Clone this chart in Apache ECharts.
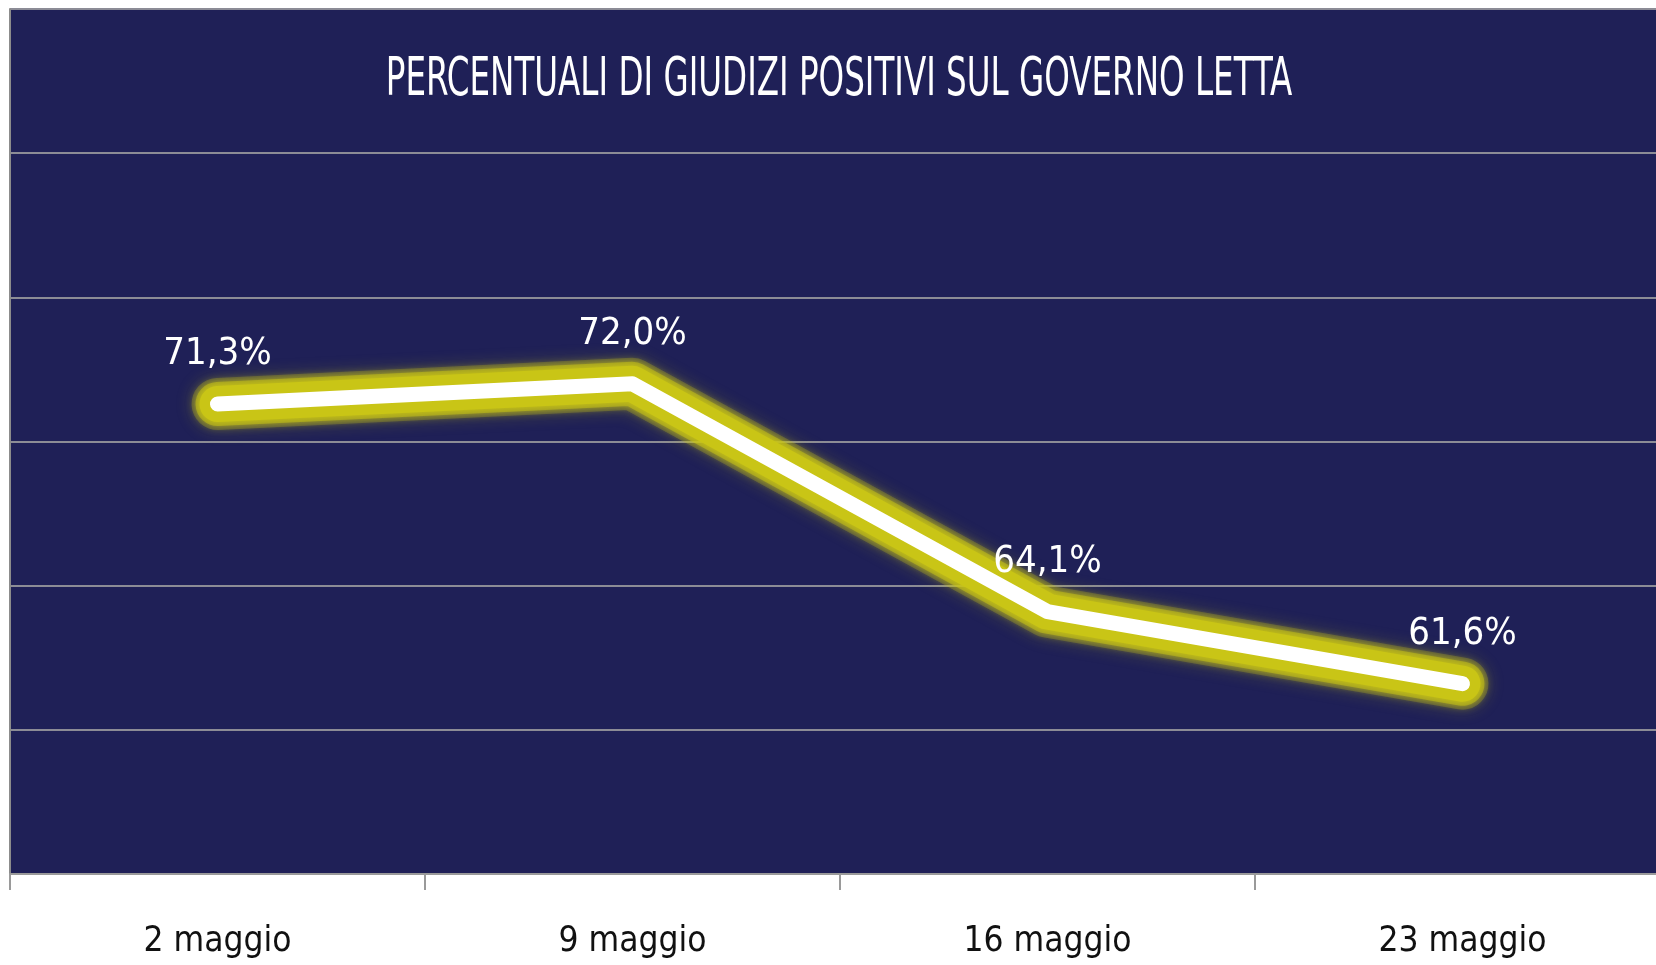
<!DOCTYPE html>
<html style="height: 100%">
<head>
<meta charset="utf-8">
<title>Governo Letta</title>
<script src="https://cdn.jsdelivr.net/npm/echarts@6/dist/echarts.min.js"></script>
</head>
<body style="height: 100%; margin: 0; background: #ffffff; overflow: hidden">
<!-- il grafico esce un po' a destra, come nell'originale -->
<div id="main" style="width: 1680px; height: 965px"></div>
<script type="text/javascript">
// dati
var categorie = ['2 maggio', '9 maggio', '16 maggio', '23 maggio'];
var giudiziPositivi = [71.3, 72.0, 64.1, 61.6];
var titolo = 'PERCENTUALI DI GIUDIZI POSITIVI SUL GOVERNO LETTA';

var font = '"DejaVu Sans Condensed", "Liberation Sans Narrow", sans-serif';
var giallo = '#c9c516';

var myChart = echarts.init(document.getElementById('main'));

function formatta(v) {
	return v.toFixed(1).replace('.', ',') + '%';
}

// alone giallo sfumato: piu' linee sovrapposte
function alone(larghezza, opacita, blur) {
	return {
		type: 'line',
		data: giudiziPositivi,
		showSymbol: false,
		silent: true,
		z: 2,
		lineStyle: {
			color: giallo,
			width: larghezza,
			opacity: opacita,
			cap: 'round',
			join: 'round',
			shadowColor: giallo,
			shadowBlur: blur
		}
	};
}

var option = {
	backgroundColor: '#ffffff',
	animation: false,
	// titolo stretto come nel originale (font condensato)
	graphic: [{
		type: 'text',
		x: 839,
		y: 54,
		scaleX: 0.67,
		z: 10,
		style: {
			text: titolo,
			fill: '#ffffff',
			font: '54px ' + font,
			textAlign: 'center',
			textVerticalAlign: 'top'
		}
	}],
	grid: {
		left: 10,
		top: 9,
		right: 10,
		height: 865,
		show: true,
		backgroundColor: '#1f2057',
		borderWidth: 0
	},
	xAxis: {
		type: 'category',
		data: categorie,
		boundaryGap: true,
		axisLine: { lineStyle: { color: '#9a9a9a', width: 2 } },
		axisTick: { show: true, length: 16, lineStyle: { color: '#9a9a9a', width: 2 } },
		axisLabel: {
			margin: 50,
			color: '#111111',
			fontFamily: font,
			fontSize: 35
		}
	},
	yAxis: {
		type: 'value',
		min: 55,
		max: 85,
		interval: 5,
		axisLabel: { show: false },
		axisTick: { show: false },
		axisLine: { show: true, lineStyle: { color: '#8c8c8c', width: 2 } },
		splitLine: { lineStyle: { color: '#8c8c96', width: 2 } }
	},
	series: [
		alone(52, 0.25, 16),
		alone(44, 0.5, 10),
		alone(36, 1, 8),
		{
			type: 'line',
			data: giudiziPositivi,
			showSymbol: true,
			symbol: 'circle',
			symbolSize: 1,
			itemStyle: { color: '#ffffff' },
			z: 3,
			lineStyle: {
				color: '#ffffff',
				width: 15,
				cap: 'round',
				join: 'round'
			},
			label: {
				show: true,
				position: 'top',
				distance: 30,
				color: '#ffffff',
				fontFamily: font,
				fontSize: 38,
				formatter: function (p) { return formatta(p.value); }
			}
		}
	]
};

myChart.setOption(option);
</script>
</body>
</html>
